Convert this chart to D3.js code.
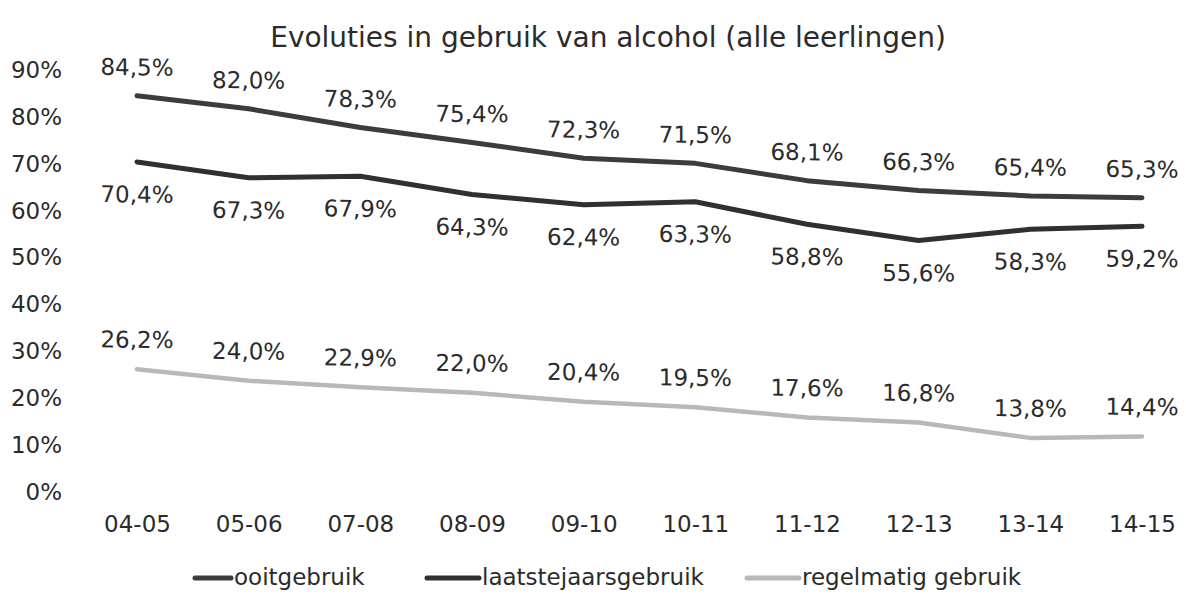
<!DOCTYPE html>
<html>
<head>
<meta charset="utf-8">
<script src="https://cdn.jsdelivr.net/npm/d3@7"></script>
<style>
  body { margin: 0; background: #fff; }
  text { font-family: "DejaVu Sans", Verdana, sans-serif; fill: #2b2b2b; }
</style>
</head>
<body>
<svg id="chart" width="1186" height="594"></svg>
<script>
// data
var years = ["04-05", "05-06", "07-08", "08-09", "09-10", "10-11", "11-12", "12-13", "13-14", "14-15"];
var ooit = [84.5, 82.0, 78.3, 75.4, 72.3, 71.5, 68.1, 66.3, 65.4, 65.3];
var laatstejaars = [70.4, 67.3, 67.9, 64.3, 62.4, 63.3, 58.8, 55.6, 58.3, 59.2];
var regelmatig = [26.2, 24.0, 22.9, 22.0, 20.4, 19.5, 17.6, 16.8, 13.8, 14.4];
var yTicks = [0, 10, 20, 30, 40, 50, 60, 70, 80, 90];

var series = [
    { name: "ooitgebruik", values: ooit, color: "#3c3c3c", width: 5, labelDy: -27 },
    { name: "laatstejaarsgebruik", values: laatstejaars, color: "#303030", width: 5, labelDy: 34 },
    { name: "regelmatig gebruik", values: regelmatig, color: "#b8b8b8", width: 4.5, labelDy: -28 }
];

var svg = d3.select("#chart");

var x = d3.scalePoint().domain(years).range([137, 1142]);
var y = d3.scaleLinear().domain([0, 90]).range([492, 70]);

var fmt = function (v) { return v.toFixed(1).replace(".", ",") + "%"; };

// title
svg.append("text")
    .attr("x", 608).attr("y", 39)
    .attr("text-anchor", "middle")
    .attr("dominant-baseline", "middle")
    .style("font-size", "28px")
    .text("Evoluties in gebruik van alcohol (alle leerlingen)");

// y axis (labels only)
var yAxis = svg.append("g")
    .attr("transform", "translate(62,0)")
    .call(d3.axisLeft(y).tickValues(yTicks).tickSize(0).tickPadding(0).tickFormat(d => d + "%"));
yAxis.select(".domain").remove();
yAxis.selectAll("text").style("font-size", "23px").attr("fill", "#2b2b2b");

// x axis (labels only)
var xAxis = svg.append("g")
    .attr("transform", "translate(0,516)")
    .call(d3.axisBottom(x).tickSize(0).tickPadding(0));
xAxis.select(".domain").remove();
xAxis.selectAll("text").style("font-size", "23px").attr("fill", "#2b2b2b");

// the scanned plot area sags slightly to the right
var plot = svg.append("g")
    .attr("transform", "translate(137,0) skewY(0.68) translate(-137,0)");

var line = d3.line()
    .x((d, i) => x(years[i]))
    .y(d => y(d));

// lines
plot.selectAll(".line")
    .data(series)
    .enter()
    .append("path")
    .attr("class", "line")
    .attr("d", d => line(d.values))
    .attr("fill", "none")
    .attr("stroke", d => d.color)
    .attr("stroke-width", d => d.width)
    .attr("stroke-linecap", "round")
    .attr("stroke-linejoin", "round");

// value labels
series.forEach(function (s) {
    plot.selectAll(null)
        .data(s.values)
        .enter()
        .append("text")
        .attr("x", (d, i) => x(years[i]))
        .attr("y", d => y(d) + s.labelDy)
        .attr("text-anchor", "middle")
        .attr("dominant-baseline", "middle")
        .style("font-size", "23px")
        .text(d => fmt(d));
});

// legend
var legendX = [195, 427, 747];
var legend = svg.selectAll(".legend")
    .data(series)
    .enter()
    .append("g")
    .attr("transform", (d, i) => "translate(" + legendX[i] + ",578)");

legend.append("line")
    .attr("x1", 0).attr("x2", (d, i) => i === 0 ? 36 : 52)
    .attr("y1", 0).attr("y2", 0)
    .attr("stroke", d => d.color)
    .attr("stroke-width", 5)
    .attr("stroke-linecap", "round");

legend.append("text")
    .attr("x", (d, i) => i === 0 ? 39 : 55)
    .attr("y", 0)
    .attr("dominant-baseline", "middle")
    .style("font-size", "23px")
    .text(d => d.name);
</script>
</body>
</html>
